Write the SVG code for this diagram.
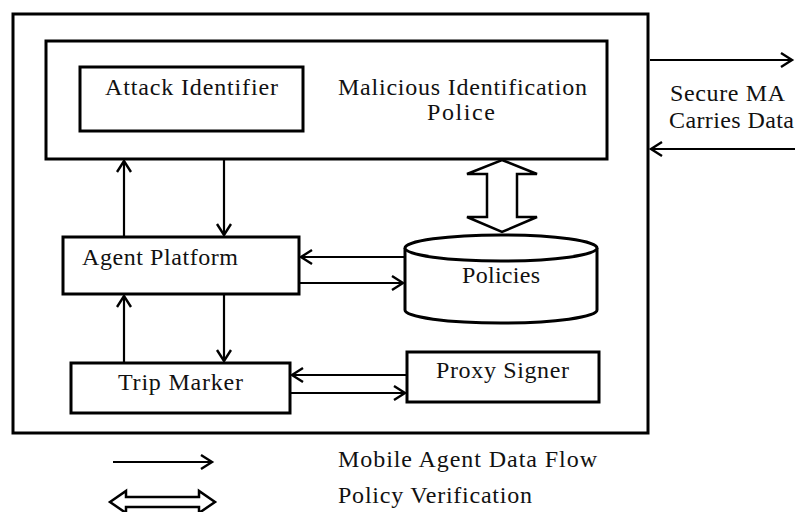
<svg xmlns="http://www.w3.org/2000/svg" width="795" height="512" viewBox="0 0 795 512">
<style>
.box{fill:#fff;stroke:#000;stroke-width:3}
.t{font-family:"Liberation Serif","Times New Roman",serif;font-size:24px;fill:#111}
.ln{fill:none;stroke:#000;stroke-width:2.2;marker-end:url(#ah)}
.dbl{fill:#fff;stroke:#000;stroke-width:2.5;stroke-linejoin:miter}
</style>
<defs>
<marker id="ah" markerWidth="16" markerHeight="18" refX="12" refY="8" orient="auto" markerUnits="userSpaceOnUse">
<path d="M1,1 L12,8 L1,15" fill="none" stroke="#000" stroke-width="2.4"/>
</marker>
</defs>
<rect width="795" height="512" fill="#fff"/>
<g id="system">
<rect class="box" x="13" y="14" width="635" height="419" stroke-width="3.5"/>
</g>
<g id="mip">
<rect class="box" x="46" y="41" width="561" height="118"/>
<text class="t" x="338" y="95" textLength="249" lengthAdjust="spacing">Malicious Identification</text>
<text class="t" x="427" y="120" textLength="68" lengthAdjust="spacing">Police</text>
</g>
<g id="attack-identifier">
<rect class="box" x="80" y="67" width="223" height="64"/>
<text class="t" x="105" y="95" textLength="173" lengthAdjust="spacing">Attack Identifier</text>
</g>
<g id="agent-platform">
<rect class="box" x="63" y="237" width="236" height="57"/>
<text class="t" x="82" y="265" textLength="156" lengthAdjust="spacing">Agent Platform</text>
</g>
<g id="policies">
<path class="box" d="M405,248 L405,310 A96,13 0 0 0 597,310 L597,248"/>
<ellipse class="box" cx="501" cy="248" rx="96" ry="13"/>
<text class="t" x="462" y="283" textLength="78" lengthAdjust="spacing">Policies</text>
</g>
<g id="trip-marker">
<rect class="box" x="71" y="363" width="219" height="50"/>
<text class="t" x="118" y="390" textLength="125" lengthAdjust="spacing">Trip  Marker</text>
</g>
<g id="proxy-signer">
<rect class="box" x="407" y="352" width="192" height="50"/>
<text class="t" x="436" y="378" textLength="133" lengthAdjust="spacing">Proxy Signer</text>
</g>
<g id="external-label">
<text class="t" x="670" y="101" textLength="115" lengthAdjust="spacing">Secure MA</text>
<text class="t" x="669" y="128" textLength="125" lengthAdjust="spacing">Carries Data</text>
</g>
<g id="connectors">
<line class="ln" x1="124" y1="236" x2="124" y2="161"/>
<line class="ln" x1="224" y1="160" x2="224" y2="235"/>
<line class="ln" x1="124" y1="362" x2="124" y2="296"/>
<line class="ln" x1="224" y1="295" x2="224" y2="361"/>
<line class="ln" x1="405" y1="257" x2="301" y2="257"/>
<line class="ln" x1="300" y1="283" x2="403" y2="283"/>
<line class="ln" x1="407" y1="375" x2="292" y2="375"/>
<line class="ln" x1="291" y1="393" x2="405" y2="393"/>
<line class="ln" x1="650" y1="60" x2="792" y2="60"/>
<line class="ln" x1="795" y1="149" x2="651" y2="149"/>
<polygon class="dbl" points="502,160 537,174 517,174 517,217 537,217 502,232 467,217 487,217 487,174 467,174"/>
</g>
<g id="legend">
<line class="ln" x1="113" y1="462" x2="212" y2="462"/>
<polygon class="dbl" points="110,502 126,491 126,497 199,497 199,491 215,502 199,513 199,507 126,507 126,513"/>
<text class="t" x="338" y="467" textLength="259" lengthAdjust="spacing">Mobile Agent Data Flow</text>
<text class="t" x="338" y="503" textLength="194" lengthAdjust="spacing">Policy Verification</text>
</g>
</svg>
